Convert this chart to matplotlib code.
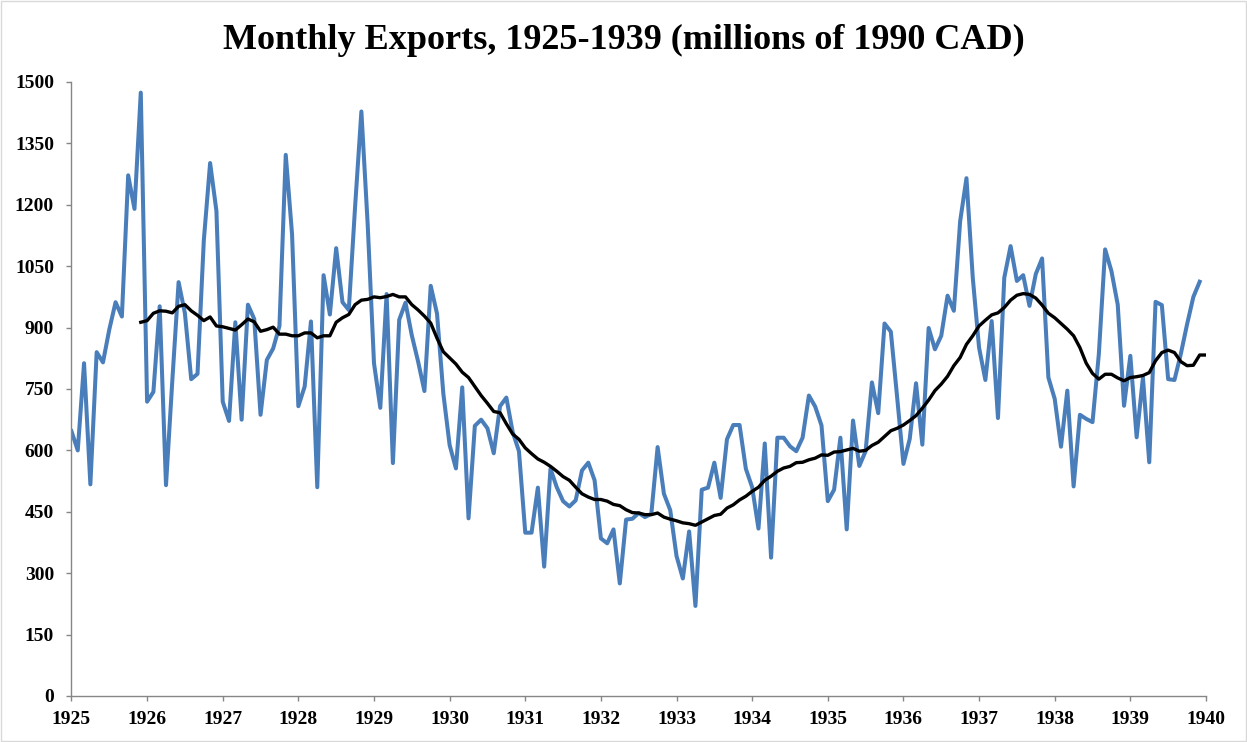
import matplotlib
matplotlib.use('Agg')
import matplotlib.pyplot as plt
import numpy as np

TITLE = "Monthly Exports, 1925-1939 (millions of 1990 CAD)"

# monthly exports, Jan 1925 .. Dec 1939
exports = [
    647, 600, 813, 517, 840, 815, 895, 962, 927, 1272, 1190, 1474,   # 1925
    719, 743, 952, 515, 770, 1011, 935, 774, 787, 1113, 1302, 1185,  # 1926
    719, 672, 913, 675, 956, 921, 687, 821, 849, 904, 1322, 1128,    # 1927
    708, 756, 915, 510, 1028, 932, 1094, 962, 943, 1195, 1428, 1152, # 1928
    813, 704, 982, 569, 919, 961, 881, 817, 745, 1002, 934, 739,     # 1929
    613, 556, 754, 434, 660, 675, 654, 593, 708, 729, 645, 598,      # 1930
    399, 399, 509, 316, 555, 510, 476, 463, 478, 551, 570, 527,      # 1931
    385, 373, 407, 275, 431, 433, 447, 437, 445, 608, 494, 454,      # 1932
    342, 287, 402, 220, 504, 509, 570, 484, 627, 662, 662, 555,      # 1933
    510, 409, 617, 338, 631, 631, 610, 598, 631, 734, 707, 661,      # 1934
    476, 504, 631, 407, 673, 562, 598, 766, 691, 910, 890, 730,      # 1935
    567, 628, 764, 614, 899, 847, 880, 978, 941, 1160, 1265, 1022,   # 1936
    851, 772, 916, 679, 1022, 1099, 1014, 1028, 953, 1031, 1069, 778,# 1937
    726, 609, 746, 512, 687, 677, 669, 835, 1091, 1038, 956, 709,    # 1938
    831, 632, 778, 571, 963, 955, 774, 772, 835, 908, 975, 1012,     # 1939
]

# 12-month moving average, starting at Dec 1925
ma_start = 11
moving_avg = [
    913, 917, 935, 941, 940, 936, 952, 956, 941, 930, 917, 926, 904,
    902, 898, 894, 907, 921, 914, 891, 895, 901, 884, 884, 880,
    880, 887, 887, 875, 880, 880, 913, 924, 932, 956, 967, 969,
    975, 973, 976, 981, 975, 975, 956, 943, 928, 911, 874, 841,
    826, 811, 791, 778, 756, 734, 715, 695, 692, 665, 640, 627,
    606, 592, 579, 571, 561, 549, 536, 527, 510, 494, 486, 480,
    480, 476, 468, 465, 455, 448, 447, 443, 443, 447, 437, 432,
    428, 423, 421, 417, 425, 433, 441, 444, 459, 467, 479, 488,
    500, 510, 527, 537, 549, 557, 561, 570, 571, 577, 581, 589,
    588, 596, 597, 601, 605, 598, 600, 612, 620, 634, 648, 654,
    662, 673, 685, 703, 723, 746, 762, 781, 807, 827, 859, 880,
    904, 918, 931, 936, 949, 967, 979, 983, 981, 972, 955, 935,
    924, 910, 896, 880, 851, 813, 788, 774, 786, 786, 777, 770,
    778, 780, 783, 790, 819, 839, 845, 839, 817, 807, 808, 833,
    833,
]

years = list(range(1925, 1941))
yticks = list(range(0, 1501, 150))

x_exp = 1925 + np.arange(len(exports)) / 12.0
x_ma = 1925 + (ma_start + np.arange(len(moving_avg))) / 12.0

plt.rcParams['font.family'] = ['Liberation Serif', 'DejaVu Serif']

fig = plt.figure(figsize=(12.47, 7.42), dpi=100)
ax = fig.add_axes([0.0573, 0.062, 0.9098, 0.8275])

ax.plot(x_exp, exports, color='#4A7EBB', linewidth=2.9, solid_joinstyle='round')
ax.plot(x_ma, moving_avg, color='black', linewidth=2.4, solid_joinstyle='round')

ax.set_xlim(1925, 1940)
ax.set_ylim(0, 1500)
ax.set_xticks(years)
ax.set_xticklabels([str(y) for y in years], fontsize=14, fontweight='bold')
ax.set_yticks(yticks)
ax.set_yticklabels([str(v) for v in yticks], fontsize=14, fontweight='bold')
ax.tick_params(axis='both', direction='out', length=3.6, color='#868686', width=1)
ax.tick_params(axis='y', pad=9)
ax.tick_params(axis='x', pad=7)

for side in ['top', 'right']:
    ax.spines[side].set_visible(False)
for side in ['left', 'bottom']:
    ax.spines[side].set_color('#868686')
    ax.spines[side].set_linewidth(1)

fig.text(0.5, 0.934, TITLE, ha='center', va='baseline', fontsize=26, fontweight='bold')

# light border round the chart area
fig.patches.append(plt.Rectangle((0.001, 0.001), 0.998, 0.998, transform=fig.transFigure,
                                 fill=False, edgecolor='#D9D9D9', linewidth=1))

fig.savefig('out.png', dpi=100)
plt.close(fig)
